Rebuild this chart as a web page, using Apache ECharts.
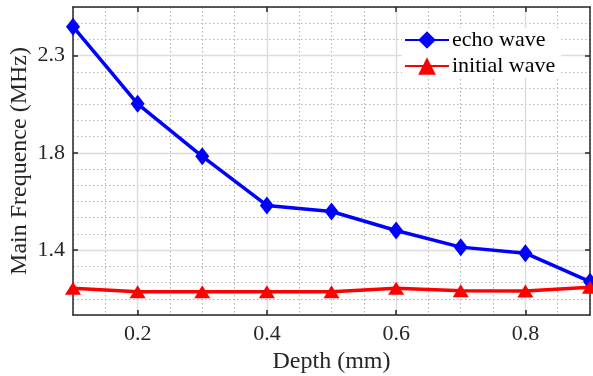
<!DOCTYPE html>
<html>
<head>
<meta charset="utf-8">
<script src="https://cdn.jsdelivr.net/npm/echarts@6/dist/echarts.min.js"></script>
<style>
  html, body { margin: 0; padding: 0; background: #fff; }
  #chart { width: 593px; height: 376px; }
</style>
</head>
<body>
<div id="chart"></div>
<script>
// Depth of each measurement (mm)
const depths = [0.1, 0.2, 0.3, 0.4, 0.5, 0.6, 0.7, 0.8, 0.9];
// Main frequency of each wave (MHz)
const echoWave    = [2.434, 2.077, 1.834, 1.607, 1.579, 1.491, 1.414, 1.386, 1.254];
const initialWave = [1.224, 1.208, 1.208, 1.208, 1.208, 1.224, 1.212, 1.211, 1.228];

// Labelled ticks
const xTickLabels = ['0.2', '0.4', '0.6', '0.8'];
const yTickValues = [1.4, 1.85, 2.3];
const yTickLabels = ['1.4', '1.8', '2.3'];

// Axis ranges and fine-grid step
const xRange = [0.1, 0.9], xMinorStep = 0.05;
const yRange = [1.1, 2.525], yMinorStep = 0.075;

const FONT = 'Liberation Serif';
const INK = '#262626';

// Positions of the fine grid, used as slots for the labelled-tick axes
const xSlots = depths.map(d => d.toFixed(1));
const ySlotCount = Math.round((yRange[1] - yRange[0]) / yMinorStep) + 1;
const ySlots = Array.from({ length: ySlotCount }, (_, i) => (yRange[0] + i * yMinorStep).toFixed(3));

const isXTick = (i, v) => xTickLabels.includes(String(v));
const yTickIndex = v => yTickValues.findIndex(t => Math.abs(t - Number(v)) < 1e-6);
const isYTick = (i, v) => yTickIndex(v) >= 0;

const minorGrid = { show: true, lineStyle: { color: '#b4b4b4', width: 1.1, type: [1.5, 2.5] } };
const majorGrid = { show: true, lineStyle: { color: '#dcdcdc', width: 1.4, type: 'solid' } };
const boxLine = { show: true, onZero: false, lineStyle: { color: INK, width: 1.5 } };
const hidden = { show: false };

const chart = echarts.init(document.getElementById('chart'), null, { renderer: 'canvas' });
chart.setOption({
  animation: false,
  backgroundColor: '#fff',
  grid: { left: 73, right: 3, top: 7, bottom: 61, containLabel: false, outerBoundsMode: 'none' },
  legend: {
    orient: 'vertical',
    left: 402,
    top: 28,
    padding: [1, 6, 1, 2],
    backgroundColor: '#fff',
    itemWidth: 44,
    itemHeight: 22,
    itemGap: 4,
    textStyle: { fontFamily: FONT, fontSize: 22, color: '#000', padding: [0, 0, 0, -2] },
    data: ['echo wave', 'initial wave']
  },
  xAxis: [
    { // data axis with the dotted fine grid
      type: 'value', position: 'bottom', min: xRange[0], max: xRange[1], interval: xMinorStep, z: 0,
      axisLine: hidden, axisTick: hidden, axisLabel: hidden, splitLine: minorGrid
    },
    { // labelled bottom axis with the solid grid
      type: 'category', position: 'bottom', data: xSlots, boundaryGap: false, z: 1,
      name: 'Depth (mm)', nameLocation: 'middle', nameGap: 29,
      nameTextStyle: { fontFamily: FONT, fontSize: 24, color: INK },
      axisLine: boxLine,
      axisTick: { show: true, inside: true, length: 5, interval: isXTick, lineStyle: { color: INK, width: 1.5 } },
      axisLabel: { show: true, interval: isXTick, margin: 8, fontFamily: FONT, fontSize: 22, color: INK },
      splitLine: Object.assign({ interval: isXTick }, majorGrid)
    },
    { // top edge of the box
      type: 'category', position: 'top', data: xSlots, boundaryGap: false, z: 1,
      axisLine: boxLine,
      axisTick: { show: true, inside: true, length: 5, interval: isXTick, lineStyle: { color: INK, width: 1.5 } },
      axisLabel: hidden, splitLine: hidden
    }
  ],
  yAxis: [
    {
      type: 'value', position: 'left', min: yRange[0], max: yRange[1], interval: yMinorStep, z: 0,
      axisLine: hidden, axisTick: hidden, axisLabel: hidden, splitLine: minorGrid
    },
    {
      type: 'category', position: 'left', data: ySlots, boundaryGap: false, z: 1,
      name: 'Main Frequence (MHz)', nameLocation: 'middle', nameGap: 41, nameMoveOverlap: false,
      nameTextStyle: { fontFamily: FONT, fontSize: 24, color: INK },
      axisLine: boxLine,
      axisTick: { show: true, inside: true, length: 5, interval: isYTick, lineStyle: { color: INK, width: 1.5 } },
      axisLabel: {
        show: true, interval: isYTick, margin: 8, fontFamily: FONT, fontSize: 22, color: INK,
        formatter: v => yTickLabels[yTickIndex(v)]
      },
      splitLine: Object.assign({ interval: isYTick }, majorGrid)
    },
    {
      type: 'category', position: 'right', data: ySlots, boundaryGap: false, z: 1,
      axisLine: boxLine,
      axisTick: { show: true, inside: true, length: 5, interval: isYTick, lineStyle: { color: INK, width: 1.5 } },
      axisLabel: hidden, splitLine: hidden
    }
  ],
  series: [
    {
      name: 'echo wave', type: 'line', xAxisIndex: 0, yAxisIndex: 0, z: 5,
      data: depths.map((d, i) => [d, echoWave[i]]),
      symbol: 'diamond', symbolSize: [14, 18],
      lineStyle: { color: '#0000ff', width: 3.5 },
      itemStyle: { color: '#0000ff' },
      clip: false
    },
    {
      name: 'initial wave', type: 'line', xAxisIndex: 0, yAxisIndex: 0, z: 5,
      data: depths.map((d, i) => [d, initialWave[i]]),
      symbol: 'triangle', symbolSize: [16, 13],
      lineStyle: { color: '#ff0000', width: 3.5 },
      itemStyle: { color: '#ff0000' },
      clip: false
    }
  ]
});
</script>
</body>
</html>
